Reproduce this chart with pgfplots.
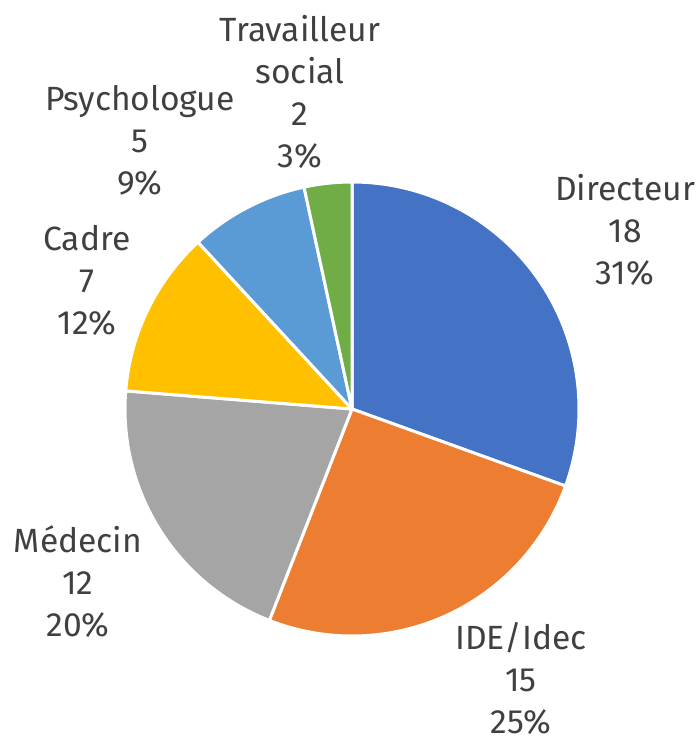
\documentclass[border=0pt]{standalone}
\usepackage{fontspec}
\setmainfont{Fira Sans}
\usepackage{pgfplots}
\usepackage{pgfplotstable}
\pgfplotsset{compat=1.18}
\definecolor{c0}{HTML}{4472C4}
\definecolor{c1}{HTML}{ED7D31}
\definecolor{c2}{HTML}{A5A5A5}
\definecolor{c3}{HTML}{FFC000}
\definecolor{c4}{HTML}{5B9BD5}
\definecolor{c5}{HTML}{70AD47}
\definecolor{txt}{HTML}{404040}
\pgfplotstableread{
label count
Directeur 18
IDE 15
Medecin 12
Cadre 7
Psychologue 5
Travailleur 2
}\piedata
\begin{document}
\begin{tikzpicture}
\begin{axis}[
  scale only axis, width=348.5pt, height=370pt,
  xmin=0, xmax=697, ymin=0, ymax=740,
  hide axis, clip=false,
]
\path (axis cs:0,0) rectangle (axis cs:697,740);
% total
\def\total{0}
\pgfplotsforeachungrouped \i in {0,...,5}{%
  \pgfplotstablegetelem{\i}{count}\of\piedata
  \pgfmathsetmacro\total{\total+\pgfplotsretval}%
}
\def\startangle{90}
\pgfplotsforeachungrouped \i in {0,...,5}{%
  \pgfplotstablegetelem{\i}{count}\of\piedata
  \pgfmathsetmacro\endangle{\startangle-360*\pgfplotsretval/\total}%
  \edef\temp{\noexpand\filldraw[fill=c\i, draw=white, line width=1.5pt, line join=round]
    (axis cs:352,331) -- ++(\startangle:113.5pt)
    arc[start angle=\startangle, end angle=\endangle, radius=113.5pt] -- cycle;}%
  \temp
  \global\let\startangle\endangle
}
\tikzset{lbl/.style={align=center, text=txt, font=\fontsize{16.8pt}{21pt}\selectfont, inner sep=0pt}}
\node[lbl] at (axis cs:625,510) {Directeur\\18\\31\%};
\node[lbl] at (axis cs:521,62) {IDE/Idec\\15\\25\%};
\node[lbl] at (axis cs:78,158) {Médecin\\12\\20\%};
\node[lbl] at (axis cs:87,460) {Cadre\\7\\12\%};
\node[lbl] at (axis cs:140,600) {Psychologue\\5\\9\%};
\node[lbl] at (axis cs:300,648.5) {Travailleur\\social\\2\\3\%};
\end{axis}
\end{tikzpicture}
\end{document}
